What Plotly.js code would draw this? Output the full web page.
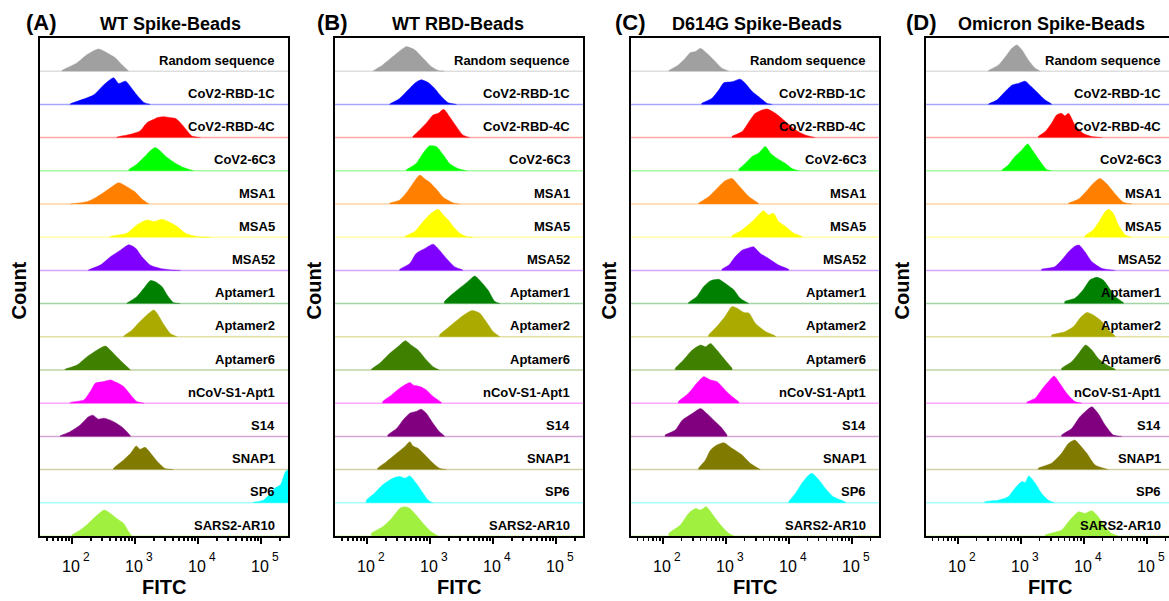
<!DOCTYPE html>
<html>
<head>
<meta charset="utf-8">
<script src="https://cdn.plot.ly/plotly-3.0.1.min.js"></script>
<style>html,body{margin:0;padding:0;overflow:hidden;background:#fff;}#chart{width:1180px;height:601px;}</style>
</head>
<body>
<div id="chart"></div>
<script>
// ---------- DATA ----------
const categories = ['Random sequence','CoV2-RBD-1C','CoV2-RBD-4C','CoV2-6C3','MSA1','MSA5','MSA52',
  'Aptamer1','Aptamer2','Aptamer6','nCoV-S1-Apt1','S14','SNAP1','SP6','SARS2-AR10'];
const seriesColors = ['#a0a0a0','#0000ff','#ff0000','#00ff00','#ff8000','#ffff00','#8000ff',
  '#008000','#aaaa00','#408000','#ff00ff','#800080','#807a00','#00ffff','#a0f040'];
const panelLetters = ['(A)','(B)','(C)','(D)'];
const panelTitles = ['WT Spike-Beads','WT RBD-Beads','D614G Spike-Beads','Omicron Spike-Beads'];
const xTickVals = [100, 1000, 10000, 100000];
const xTickBase = ['10','10','10','10'];
const xTickExp = ['2','3','4','5'];
const xTitle = 'FITC';
const yTitle = 'Count';

// log10(FITC) sample positions and normalized counts (fraction of row height)
const A_log10FITC = [
  [1.84,2.08,2.24,2.42,2.56,2.69,2.79,2.90],
  [1.97,2.34,2.50,2.66,2.74,2.85,2.95,3.03,3.14,3.24],
  [2.71,2.93,3.08,3.19,3.30,3.35,3.46,3.56,3.64,3.72,3.83,3.90,4.04],
  [2.90,3.03,3.14,3.24,3.32,3.40,3.51,3.64,3.77,3.93],
  [1.97,2.24,2.40,2.56,2.74,2.87,3.01,3.11,3.22],
  [2.61,2.87,3.03,3.19,3.30,3.43,3.56,3.67,3.80,3.98,4.20],
  [2.26,2.45,2.61,2.77,2.90,3.01,3.11,3.24,3.40,3.61,3.72],
  [2.87,3.03,3.14,3.24,3.32,3.43,3.51,3.61,3.72],
  [2.82,2.95,3.08,3.22,3.30,3.35,3.46,3.56,3.67],
  [1.89,2.08,2.24,2.40,2.53,2.66,2.79,2.93],
  [1.97,2.19,2.29,2.37,2.50,2.61,2.71,2.82,2.93,3.03,3.14],
  [1.81,1.97,2.13,2.26,2.33,2.42,2.50,2.61,2.71,2.82,2.93],
  [2.66,2.82,2.93,3.02,3.08,3.16,3.27,3.38,3.48,3.61],
  [4.88,5.04,5.15,5.22,5.31,5.36,5.39,5.45],
  [2.00,2.13,2.26,2.40,2.51,2.61,2.71,2.82,2.90,2.95]
];
const A_count = [
  [0.02,0.25,0.50,0.67,0.55,0.40,0.20,0],
  [0.01,0.28,0.58,0.80,0.63,0.70,0.48,0.28,0.06,0],
  [0.01,0.10,0.20,0.45,0.55,0.60,0.63,0.60,0.58,0.45,0.20,0.05,0],
  [0.03,0.20,0.40,0.60,0.70,0.60,0.40,0.23,0.10,0],
  [0.00,0.07,0.22,0.42,0.64,0.52,0.35,0.15,0],
  [0.02,0.12,0.37,0.52,0.47,0.54,0.44,0.32,0.12,0.02,0],
  [0.01,0.16,0.41,0.61,0.77,0.67,0.41,0.16,0.06,0.01,0],
  [0.01,0.21,0.46,0.69,0.66,0.51,0.26,0.03,0],
  [0.02,0.20,0.46,0.71,0.81,0.71,0.36,0.10,0],
  [0.02,0.15,0.40,0.60,0.72,0.50,0.25,0.00],
  [0.02,0.10,0.35,0.60,0.65,0.70,0.62,0.50,0.25,0.05,0],
  [0.01,0.14,0.34,0.59,0.64,0.52,0.55,0.49,0.39,0.24,0.01],
  [0.04,0.29,0.49,0.71,0.61,0.67,0.44,0.19,0.03,0],
  [0.01,0.08,0.29,0.44,0.54,0.79,0.94,1.00],
  [0.03,0.18,0.38,0.63,0.78,0.68,0.53,0.38,0.13,0]
];
const B_log10FITC = [
  [2.10,2.25,2.41,2.54,2.62,2.76,2.89,3.02,3.13,3.23],
  [2.36,2.52,2.65,2.76,2.86,2.97,3.07,3.18,3.29,3.42],
  [2.73,2.81,2.94,3.05,3.13,3.22,3.31,3.42,3.52,3.63],
  [2.62,2.78,2.89,2.99,3.10,3.21,3.31,3.44,3.58],
  [2.36,2.52,2.65,2.76,2.84,2.92,2.99,3.10,3.21,3.37,3.47],
  [2.60,2.76,2.89,3.02,3.13,3.21,3.29,3.37,3.47,3.58,3.68],
  [2.52,2.68,2.78,2.92,3.05,3.15,3.26,3.39,3.52],
  [3.23,3.37,3.50,3.60,3.71,3.81,3.92,4.03,4.11],
  [3.15,3.31,3.47,3.58,3.67,3.79,3.89,4.00,4.11],
  [2.07,2.20,2.36,2.49,2.61,2.70,2.81,2.92,3.05,3.15],
  [2.25,2.39,2.52,2.68,2.73,2.84,2.94,3.05,3.18],
  [2.33,2.47,2.57,2.68,2.78,2.86,2.94,3.05,3.15,3.23],
  [2.17,2.31,2.47,2.60,2.68,2.73,2.81,2.92,3.05,3.15,3.26],
  [1.99,2.12,2.25,2.41,2.52,2.60,2.68,2.78,2.89,2.97,3.05],
  [2.07,2.25,2.39,2.52,2.60,2.68,2.78,2.89,3.02,3.13]
];
const B_count = [
  [0.01,0.19,0.44,0.64,0.74,0.64,0.39,0.14,0.02,0],
  [0.01,0.18,0.43,0.64,0.74,0.66,0.49,0.24,0.05,0],
  [0.03,0.18,0.43,0.68,0.73,0.85,0.63,0.33,0.08,0],
  [0.02,0.22,0.53,0.75,0.73,0.48,0.22,0.07,0],
  [0.02,0.12,0.40,0.70,0.87,0.75,0.66,0.45,0.20,0.03,0],
  [0.02,0.17,0.47,0.72,0.84,0.67,0.52,0.32,0.12,0.02,0],
  [0.03,0.21,0.51,0.66,0.79,0.61,0.36,0.11,0.01],
  [0.06,0.31,0.51,0.66,0.83,0.66,0.41,0.06,0],
  [0.05,0.31,0.56,0.71,0.79,0.71,0.46,0.16,0],
  [0.02,0.20,0.50,0.70,0.88,0.75,0.60,0.35,0.10,0],
  [0.05,0.25,0.45,0.62,0.55,0.50,0.40,0.20,0.02],
  [0.04,0.24,0.49,0.70,0.75,0.82,0.70,0.39,0.14,0.01],
  [0.04,0.24,0.49,0.69,0.84,0.71,0.64,0.44,0.19,0.04,0],
  [0.08,0.29,0.54,0.74,0.79,0.74,0.81,0.59,0.29,0.08,0],
  [0.08,0.28,0.53,0.83,0.88,0.83,0.63,0.38,0.13,0]
];
const C_log10FITC = [
  [2.10,2.25,2.36,2.44,2.52,2.60,2.70,2.81,2.94,3.05],
  [2.62,2.78,2.89,2.97,3.10,3.23,3.31,3.42,3.52,3.66,3.74],
  [3.10,3.26,3.37,3.47,3.58,3.66,3.79,3.95,4.11,4.26,4.42],
  [3.21,3.31,3.42,3.52,3.63,3.71,3.81,3.95,4.05,4.16],
  [2.57,2.73,2.89,2.99,3.10,3.21,3.37,3.52],
  [3.10,3.26,3.42,3.52,3.60,3.68,3.76,3.84,3.95,4.08,4.21],
  [2.94,3.05,3.15,3.26,3.34,3.44,3.55,3.68,3.84,4.00],
  [2.41,2.54,2.65,2.76,2.89,2.99,3.13,3.23,3.37],
  [2.73,2.86,2.99,3.10,3.18,3.29,3.37,3.47,3.63,3.79],
  [2.20,2.33,2.47,2.60,2.68,2.76,2.86,2.99,3.10],
  [2.25,2.41,2.54,2.65,2.76,2.86,2.99,3.10,3.21],
  [2.04,2.20,2.31,2.47,2.60,2.70,2.81,2.92,3.02],
  [2.57,2.68,2.76,2.86,2.97,3.10,3.26,3.39,3.55],
  [4.00,4.11,4.21,4.32,4.37,4.48,4.58,4.71,4.90],
  [2.10,2.28,2.41,2.52,2.60,2.69,2.78,2.92,3.05,3.13]
];
const C_count = [
  [0.02,0.19,0.39,0.56,0.59,0.69,0.54,0.34,0.09,0],
  [0.03,0.18,0.43,0.65,0.68,0.76,0.64,0.39,0.24,0.03,0],
  [0.03,0.18,0.48,0.73,0.83,0.86,0.73,0.48,0.23,0.08,0],
  [0.04,0.22,0.43,0.53,0.73,0.53,0.38,0.22,0.07,0],
  [0.02,0.22,0.52,0.70,0.77,0.55,0.22,0.02],
  [0.04,0.22,0.47,0.67,0.80,0.67,0.72,0.47,0.32,0.12,0.02],
  [0.03,0.16,0.41,0.61,0.66,0.71,0.51,0.36,0.16,0.03],
  [0.03,0.21,0.51,0.69,0.73,0.61,0.41,0.16,0],
  [0.05,0.31,0.61,0.91,0.86,0.73,0.71,0.41,0.16,0.02],
  [0.05,0.30,0.60,0.75,0.70,0.80,0.60,0.30,0.05],
  [0.05,0.30,0.60,0.80,0.70,0.65,0.40,0.20,0.03],
  [0.04,0.19,0.49,0.69,0.84,0.69,0.49,0.29,0.04],
  [0.04,0.29,0.59,0.74,0.81,0.64,0.44,0.19,0],
  [0.03,0.29,0.59,0.84,0.89,0.69,0.44,0.18,0.02],
  [0.08,0.33,0.68,0.83,0.78,0.88,0.68,0.33,0.08,0]
];
const D_log10FITC = [
  [2.49,2.65,2.78,2.86,2.94,3.02,3.12,3.23,3.31],
  [2.49,2.62,2.75,2.86,2.96,3.07,3.17,3.28,3.39,3.49],
  [3.28,3.39,3.49,3.57,3.65,3.70,3.76,3.86,3.99,4.13,4.29],
  [2.70,2.80,2.91,3.02,3.11,3.20,3.31,3.41,3.49],
  [3.76,3.92,4.05,4.15,4.26,4.37,4.50,4.63,4.76],
  [4.02,4.15,4.26,4.34,4.40,4.47,4.55,4.66,4.76],
  [3.33,3.54,3.65,3.76,3.86,3.93,4.02,4.13,4.29,4.50],
  [3.70,3.86,3.99,4.10,4.21,4.31,4.39,4.50,4.63],
  [3.49,3.70,3.84,3.94,4.05,4.15,4.29,4.39,4.50],
  [3.65,3.81,3.92,4.03,4.13,4.23,4.37,4.50],
  [3.10,3.23,3.33,3.44,3.53,3.62,3.73,3.86,3.97],
  [3.65,3.81,3.94,4.05,4.13,4.23,4.34,4.47,4.60],
  [3.28,3.49,3.65,3.76,3.86,3.94,4.05,4.18,4.39],
  [2.43,2.65,2.80,2.91,3.02,3.07,3.13,3.23,3.33,3.44,3.54],
  [3.39,3.65,3.78,3.92,4.02,4.13,4.23,4.34,4.44,4.55]
];
const D_count = [
  [0.02,0.19,0.49,0.69,0.79,0.64,0.34,0.09,0],
  [0.01,0.13,0.38,0.58,0.63,0.70,0.53,0.33,0.13,0.01],
  [0.03,0.18,0.43,0.68,0.73,0.65,0.73,0.38,0.13,0.03,0],
  [0.02,0.17,0.43,0.63,0.81,0.58,0.28,0.04,0],
  [0.02,0.15,0.40,0.62,0.77,0.60,0.30,0.05,0],
  [0.04,0.22,0.52,0.77,0.84,0.72,0.37,0.07,0],
  [0.03,0.11,0.31,0.56,0.73,0.76,0.56,0.26,0.06,0],
  [0.06,0.16,0.41,0.71,0.79,0.71,0.51,0.21,0.03],
  [0.05,0.15,0.31,0.56,0.73,0.66,0.46,0.21,0.02],
  [0.05,0.25,0.50,0.75,0.60,0.35,0.15,0.02],
  [0.03,0.15,0.40,0.65,0.82,0.60,0.30,0.05,0],
  [0.04,0.24,0.59,0.79,0.89,0.69,0.34,0.04,0],
  [0.04,0.19,0.49,0.79,0.89,0.74,0.49,0.14,0],
  [0.03,0.08,0.18,0.44,0.64,0.61,0.81,0.59,0.29,0.08,0],
  [0.03,0.18,0.48,0.73,0.68,0.76,0.58,0.28,0.08,0]
];

// ---------- BUILD ----------
const panelsX = [A_log10FITC, B_log10FITC, C_log10FITC, D_log10FITC];
const panelsY = [A_count, B_count, C_count, D_count];

const W = 1180, H = 601;
const plotLeftPx = [40, 335, 630.7, 925.7];
const plotWidthPx = 248;
const plotTopPx = 38, plotBottomPx = 536;
const xRange = [1.492, 5.429];
const nRows = categories.length;
const FONT = 'Liberation Sans, Arial, Helvetica, sans-serif';

function hexToRgba(hex, a) {
  const n = parseInt(hex.slice(1), 16);
  return 'rgba(' + ((n >> 16) & 255) + ',' + ((n >> 8) & 255) + ',' + (n & 255) + ',' + a + ')';
}

const minorVals = [];
[10, 100, 1000, 10000, 100000].forEach(d => { for (let k = 2; k <= 9; k++) minorVals.push(d * k); });

const traces = [];
const shapes = [];
const annotations = [];
const layout = {
  width: W, height: H,
  margin: {l: 0, r: 0, t: 0, b: 0},
  paper_bgcolor: '#fff', plot_bgcolor: '#fff',
  showlegend: false,
  font: {family: FONT, color: '#000', size: 14},
  shapes: shapes, annotations: annotations
};

for (let p = 0; p < 4; p++) {
  const sfx = p === 0 ? '' : String(p + 1);
  const xa = 'x' + sfx, ya = 'y' + sfx;
  const d0 = plotLeftPx[p] / W, d1 = (plotLeftPx[p] + plotWidthPx) / W;
  layout['xaxis' + sfx] = {
    domain: [d0, d1], anchor: ya, type: 'log', range: xRange,
    tickmode: 'array', tickvals: xTickVals, showticklabels: false,
    ticks: 'outside', ticklen: 6, tickwidth: 2, tickcolor: '#000',
    showline: true, linewidth: 2, linecolor: '#000', mirror: true,
    showgrid: false, zeroline: false, fixedrange: true,
    minor: {tickmode: 'array', tickvals: minorVals, ticks: 'outside', ticklen: 3, tickwidth: 1.5, tickcolor: '#000', showgrid: false}
  };
  layout['yaxis' + sfx] = {
    domain: [(H - plotBottomPx) / H, (H - plotTopPx) / H], anchor: xa,
    range: [0, nRows], showticklabels: false, ticks: '',
    showline: true, linewidth: 2, linecolor: '#000', mirror: true,
    showgrid: false, zeroline: false, fixedrange: true
  };

  // tick labels: "10" with a raised exponent, placed through the axis' own log scale
  for (let t = 0; t < xTickVals.length; t++) {
    const lx = Math.log10(xTickVals[t]);
    annotations.push({xref: xa, yref: 'paper', x: lx, y: (H - 566) / H, xanchor: 'right', yanchor: 'middle',
      xshift: 10, showarrow: false, text: xTickBase[t], font: {family: FONT, size: 16, color: '#000'}});
    annotations.push({xref: xa, yref: 'paper', x: lx, y: (H - 557) / H, xanchor: 'left', yanchor: 'middle',
      xshift: 9, showarrow: false, text: xTickExp[t], font: {family: FONT, size: 12, color: '#000'}});
  }

  for (let i = 0; i < nRows; i++) {
    const base = nRows - 1 - i;
    const lx = panelsX[p][i], ly = panelsY[p][i];
    const xs = [Math.pow(10, lx[0])], ys = [base];
    for (let k = 0; k < lx.length; k++) { xs.push(Math.pow(10, lx[k])); ys.push(base + ly[k]); }
    xs.push(Math.pow(10, lx[lx.length - 1])); ys.push(base);
    shapes.push({type: 'line', xref: xa + ' domain', yref: ya, x0: 0, x1: 1, y0: base, y1: base,
      line: {color: hexToRgba(seriesColors[i], 0.35), width: 1.5}, layer: 'below'});
    traces.push({
      type: 'scatter', mode: 'lines', x: xs, y: ys, xaxis: xa, yaxis: ya,
      fill: 'toself', fillcolor: seriesColors[i],
      line: {color: seriesColors[i], width: 0.5, shape: 'spline', smoothing: 0.6},
      hoverinfo: 'skip', cliponaxis: true
    });
    annotations.push({
      xref: xa + ' domain', yref: ya, x: 1 - 11 / plotWidthPx, y: base + 0.33,
      xanchor: 'right', yanchor: 'middle', showarrow: false,
      text: '<b>' + categories[i] + '</b>', font: {family: FONT, size: 13, color: '#000'}
    });
  }
  const cx = (plotLeftPx[p] + plotWidthPx / 2) / W;
  annotations.push({xref: 'paper', yref: 'paper', x: cx, y: (H - 587) / H, xanchor: 'center', yanchor: 'middle',
    showarrow: false, text: '<b>' + xTitle + '</b>', font: {family: FONT, size: 20, color: '#000'}});
  const countX = [18.5, 313.5, 608.5, 901.5][p];
  annotations.push({xref: 'paper', yref: 'paper', x: countX / W, y: (H - 291) / H, xanchor: 'center', yanchor: 'middle',
    showarrow: false, textangle: -90, text: '<b>' + yTitle + '</b>', font: {family: FONT, size: 20, color: '#000'}});
  const letterX = [41.5, 332, 630, 921][p];
  annotations.push({xref: 'paper', yref: 'paper', x: letterX / W, y: (H - 23) / H, xanchor: 'center', yanchor: 'middle',
    showarrow: false, text: '<b>' + panelLetters[p] + '</b>', font: {family: FONT, size: 22, color: '#000'}});
  const titleX = [170, 458, 757, 1051][p];
  annotations.push({xref: 'paper', yref: 'paper', x: titleX / W, y: (H - 24) / H, xanchor: 'center', yanchor: 'middle',
    showarrow: false, text: '<b>' + panelTitles[p] + '</b>', font: {family: FONT, size: 18, color: '#000'}});
}

Plotly.newPlot('chart', traces, layout, {staticPlot: true, displayModeBar: false});
</script>
</body>
</html>
